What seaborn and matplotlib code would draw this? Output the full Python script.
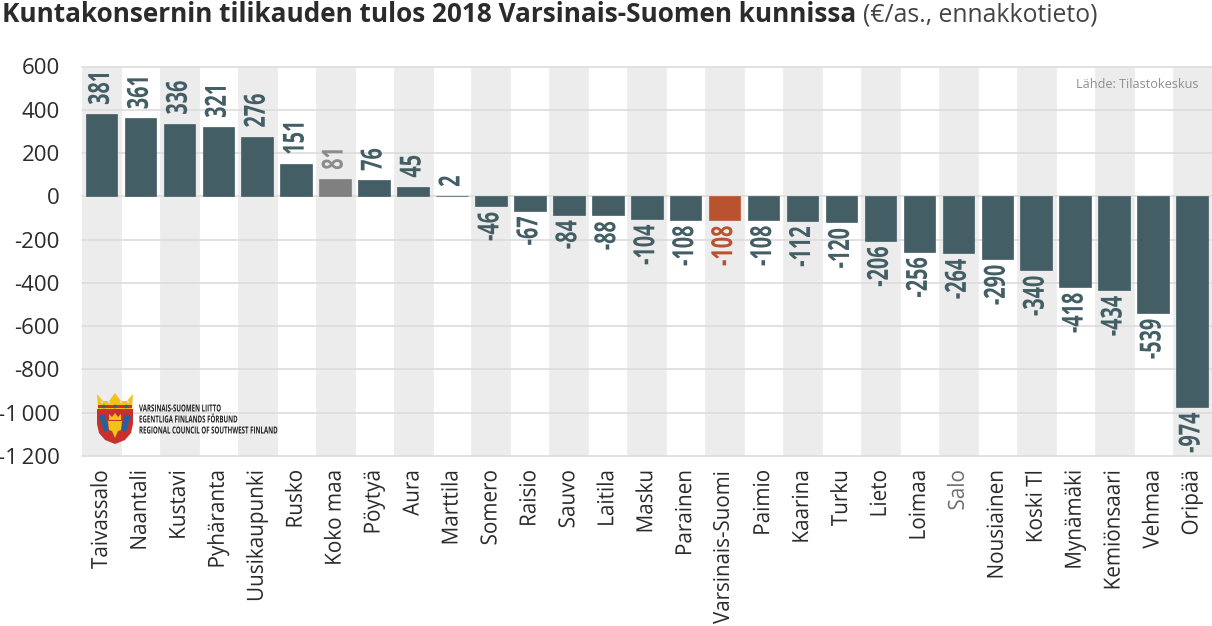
import pandas as pd
import seaborn as sn
import matplotlib.pyplot as plt
import matplotlib.patheffects as pe
from matplotlib.patches import Polygon, Circle
from matplotlib.transforms import Affine2D

kunnat = ['Taivassalo', 'Naantali', 'Kustavi', 'Pyhäranta', 'Uusikaupunki', 'Rusko', 'Koko maa',
          'Pöytyä', 'Aura', 'Marttila', 'Somero', 'Raisio', 'Sauvo', 'Laitila', 'Masku', 'Parainen',
          'Varsinais-Suomi', 'Paimio', 'Kaarina', 'Turku', 'Lieto', 'Loimaa', 'Salo', 'Nousiainen',
          'Koski Tl', 'Mynämäki', 'Kemiönsaari', 'Vehmaa', 'Oripää']
tulos = [381, 361, 336, 321, 276, 151, 81, 76, 45, 2, -46, -67, -84, -88, -104, -108, -108, -108,
         -112, -120, -206, -256, -264, -290, -340, -418, -434, -539, -974]
y_ticks = [600, 400, 200, 0, -200, -400, -600, -800, -1000, -1200]
y_labels = ['600', '400', '200', '0', '-200', '-400', '-600', '-800', '-1\u2009000', '-1\u2009200']

TEAL = '#435e65'
GREY = '#808080'
RED = '#b9532f'

df = pd.DataFrame({'kunta': kunnat, 'tulos': tulos})


# no condensed font installed, so squeeze the glyphs along the reading direction
class Squeeze(pe.AbstractPathEffect):
    def __init__(self, sx, anchor=0):
        super().__init__()
        self.sx = sx
        self.anchor = anchor

    def draw_path(self, renderer, gc, tpath, affine, rgbFace=None):
        xs = tpath.vertices[:, 0]
        xa = xs.min() + (xs.max() - xs.min()) * self.anchor
        t = Affine2D().translate(-xa, 0).scale(self.sx, 1).translate(xa, 0)
        renderer.draw_path(gc, tpath, t + affine, rgbFace)


def bar_color(name):
    if name == 'Koko maa':
        return GREY
    if name == 'Varsinais-Suomi':
        return RED
    return TEAL


def label_color(name):
    if name == 'Koko maa':
        return '#8c8c8c'
    if name == 'Varsinais-Suomi':
        return RED
    return TEAL


sn.set_style('white')
plt.rcParams['font.family'] = ['Open Sans', 'DejaVu Sans']

fig = plt.figure(figsize=(12.12, 6.26), dpi=100)
ax = fig.add_axes([82 / 1212, 1 - 456 / 626, (1211.5 - 82) / 1212, (456 - 66.5) / 626])

# stripes behind the bars
for i in range(0, len(kunnat), 2):
    ax.axvspan(i - 0.5, i + 0.5, color='#ececec', lw=0, zorder=0)
for t in y_ticks:
    ax.axhline(t, color='#dcdcdc', lw=1.2, zorder=1, clip_on=False)

sn.barplot(data=df, x='kunta', y='tulos', hue='kunta', palette=[bar_color(k) for k in kunnat],
           legend=False, width=0.81, ax=ax, zorder=2, saturation=1)
for p in ax.patches:
    p.set_edgecolor(p.get_facecolor())
    p.set_linewidth(0.5)

for i, (k, v) in enumerate(zip(kunnat, tulos)):
    if v >= 0:
        ax.annotate(str(v), (i, v), xytext=(0, 6.5), textcoords='offset points', rotation=90,
                    ha='center', va='bottom', fontsize=21, fontweight='bold',
                    color=label_color(k), zorder=3, path_effects=[Squeeze(0.68, 0)])
    else:
        ax.annotate(str(v), (i, v), xytext=(0, -4), textcoords='offset points', rotation=90,
                    ha='center', va='top', fontsize=21, fontweight='bold',
                    color=label_color(k), zorder=3, path_effects=[Squeeze(0.68, 1)])

ax.set_xlim(-0.5, len(kunnat) - 0.5)
ax.set_ylim(-1200, 600)
ax.set_yticks(y_ticks)
ax.set_yticklabels(y_labels)
ax.tick_params(axis='y', length=0, labelsize=16, labelcolor='#2b2b2b', pad=16)
ax.tick_params(axis='x', length=0, labelsize=16, labelcolor='#2b2b2b', pad=10)
plt.setp(ax.get_xticklabels(), rotation=90, ha='center', va='top', path_effects=[Squeeze(0.93, 1)])
plt.setp(ax.get_xticklabels()[22], color='#6f6f6f')
# longest label has to fit above the lower edge
plt.setp(ax.get_xticklabels()[16], fontsize=14.8, path_effects=[])
ax.set_xlabel('')
ax.set_ylabel('')
sn.despine(ax=ax, left=True, bottom=True, top=True, right=True)

# title in two weights
t1 = fig.text(2 / 1212, 1 - 15 / 626, 'Kuntakonsernin tilikauden tulos 2018 Varsinais-Suomen kunnissa',
              fontsize=18.85, fontweight='bold', color='#2b2b2b', ha='left', va='center')
fig.canvas.draw()
bb = t1.get_window_extent()
fig.text((bb.x1 + 7) / 1212, 1 - 15 / 626, '(€/as., ennakkotieto)', fontsize=17.8,
         color='#444444', ha='left', va='center')

fig.text(1199 / 1212, 1 - 84 / 626, 'Lähde: Tilastokeskus', fontsize=9.1, color='#8f8f8f',
         ha='right', va='center')

# coat of arms
logo = fig.add_axes([96 / 1212, 1 - 446 / 626, 38 / 1212, 54 / 626])
logo.set_xlim(0, 38)
logo.set_ylim(54, 0)
logo.axis('off')
logo.add_patch(Polygon([[1, 17], [1, 32], [3, 41], [9, 48], [19, 52], [29, 48], [35, 41], [37, 32], [37, 17]],
                       color='#c8312b', lw=0))
logo.add_patch(Polygon([[1, 2], [7, 9], [13, 9], [19, 1], [25, 9], [31, 9], [37, 2], [36, 17], [2, 17]],
                       color='#f2c316', lw=0))
logo.add_patch(Polygon([[2, 13], [36, 13], [36, 16], [2, 16]], color='#c8312b', lw=0))
logo.add_patch(Polygon([[3, 24], [9, 22], [13, 38], [8, 40]], color='#2a5f9e', lw=0))
logo.add_patch(Polygon([[35, 24], [29, 22], [25, 38], [30, 40]], color='#2a5f9e', lw=0))
logo.add_patch(Polygon([[13, 22], [16, 25], [19, 21], [22, 25], [25, 22], [25, 28], [13, 28]],
                       color='#f2c316', lw=0))
logo.add_patch(Polygon([[12, 29], [26, 29], [25, 38], [22, 39], [19, 46], [16, 39], [13, 38]],
                       color='#f2c316', lw=0))
for cx in [8, 19, 30]:
    logo.add_patch(Circle((cx, 14.5), 1.8, color='#2a5f9e', lw=0))
for cx in [6, 13, 25, 32]:
    logo.add_patch(Circle((cx, 10), 1.3, color='#d8d8d8', lw=0))

logo_lines = ['VARSINAIS-SUOMEN LIITTO', 'EGENTLIGA FINLANDS FÖRBUND', 'REGIONAL COUNCIL OF SOUTHWEST FINLAND']
for y, s in zip([409, 420, 431], logo_lines):
    fig.text(139 / 1212, 1 - y / 626, s, fontsize=7, fontweight='bold',
             color='#222222', ha='left', va='center', path_effects=[Squeeze(0.63, 0)])

fig.savefig('out.png', dpi=100)
